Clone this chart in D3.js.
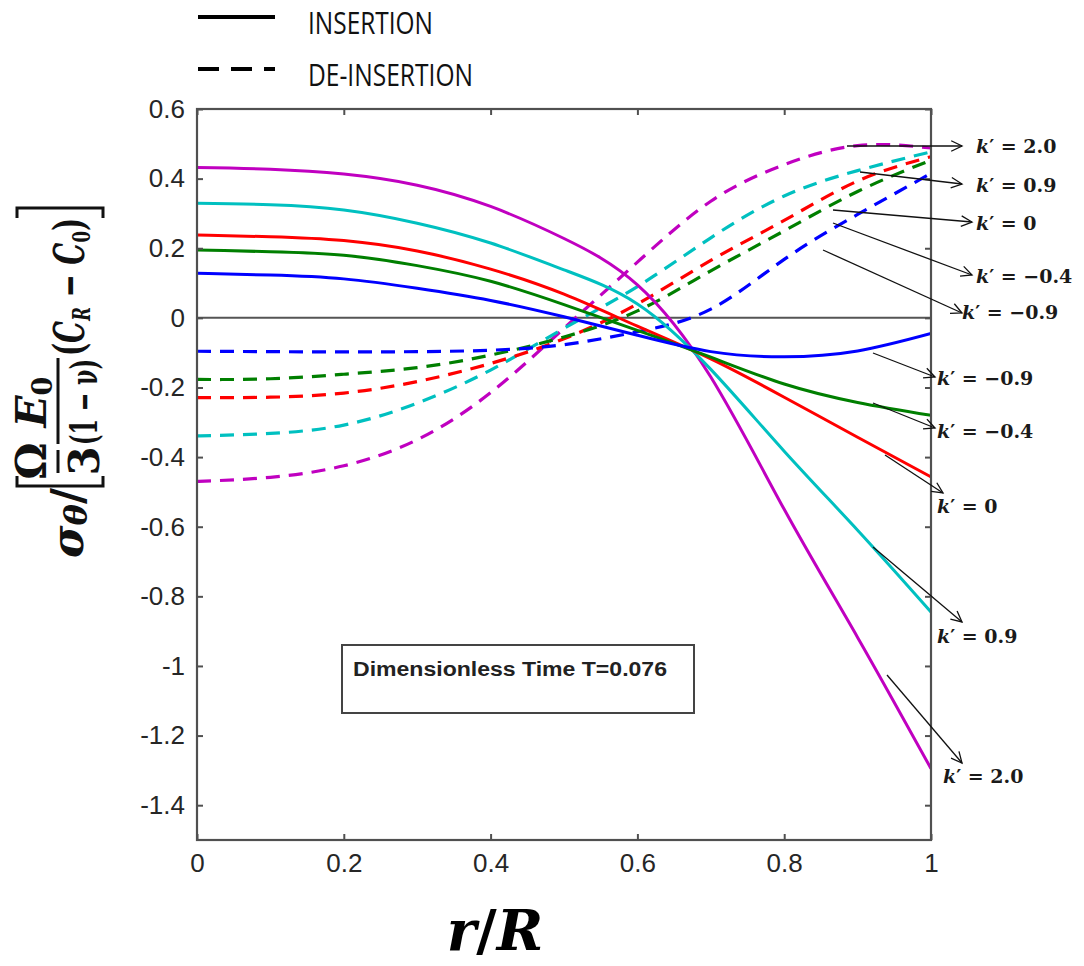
<!DOCTYPE html>
<html><head><meta charset="utf-8">
<script src="https://cdn.jsdelivr.net/npm/d3@7"></script>
<style>body{margin:0;background:#fff}</style>
</head><body>
<svg id="c" width="1084" height="966"></svg>
<script>
// ---------- data ----------
const rValues = [0, 0.1, 0.2, 0.3, 0.4, 0.5, 0.6, 0.7, 0.8, 0.9, 1.0];
const kLabels = ["2.0", "0.9", "0", "−0.4", "−0.9"];
const seriesColors = ["#c000c0", "#00c0c0", "#ff0000", "#007f00", "#0000ff"];
// insertion (solid)
const insK20  = [0.432, 0.427, 0.413, 0.381, 0.320, 0.228, 0.095, -0.170, -0.550, -0.918, -1.295];
const insK09  = [0.329, 0.325, 0.310, 0.272, 0.215, 0.138, 0.040, -0.148, -0.383, -0.610, -0.845];
const insK0   = [0.238, 0.233, 0.222, 0.192, 0.140, 0.068, -0.024, -0.118, -0.228, -0.343, -0.457];
const insKm04 = [0.195, 0.190, 0.180, 0.150, 0.105, 0.038, -0.036, -0.113, -0.190, -0.243, -0.280];
const insKm09 = [0.128, 0.123, 0.112, 0.085, 0.050, 0.003, -0.050, -0.097, -0.112, -0.095, -0.045];
// de-insertion (dashed)
const deK20  = [-0.470, -0.458, -0.425, -0.350, -0.215, -0.030, 0.160, 0.335, 0.440, 0.495, 0.488];
const deK09  = [-0.339, -0.332, -0.308, -0.245, -0.150, -0.030, 0.090, 0.230, 0.350, 0.423, 0.477];
const deK0   = [-0.229, -0.228, -0.216, -0.183, -0.131, -0.060, 0.040, 0.165, 0.280, 0.393, 0.463];
const deKm04 = [-0.177, -0.175, -0.162, -0.143, -0.107, -0.055, 0.020, 0.135, 0.250, 0.363, 0.453];
const deKm09 = [-0.096, -0.097, -0.098, -0.097, -0.093, -0.077, -0.040, 0.025, 0.168, 0.297, 0.415];
const xTicks = [0, 0.2, 0.4, 0.6, 0.8, 1];
const yTicks = [0.6, 0.4, 0.2, 0, -0.2, -0.4, -0.6, -0.8, -1, -1.2, -1.4];
const legendLabels = ["INSERTION", "DE-INSERTION"];
const noteText = "Dimensionless Time T=0.076";

// ---------- layout ----------
const svg = d3.select("#c");
const L = 197, R = 931, T = 109, B = 840;
const x = d3.scaleLinear().domain([0, 1]).range([L, R]);
const y = d3.scaleLinear().domain([-1.5, 0.6]).range([B, T]);
const axisCol = "#505050", txtCol = "#262626";

svg.append("defs").append("clipPath").attr("id", "clip")
  .append("rect").attr("x", L).attr("y", T).attr("width", R - L).attr("height", B - T);

// zero line
svg.append("line").attr("x1", L).attr("x2", R).attr("y1", y(0)).attr("y2", y(0))
  .attr("stroke", "#555").attr("stroke-width", 2);

// curves
const line = d3.line().x((d, i) => x(rValues[i])).y(d => y(d)).curve(d3.curveNatural);
const gC = svg.append("g").attr("clip-path", "url(#clip)");
const dashed = [deK20, deK09, deK0, deKm04, deKm09];
const solid = [insK20, insK09, insK0, insKm04, insKm09];
dashed.forEach((s, i) => gC.append("path").attr("d", line(s)).attr("fill", "none")
  .attr("stroke", seriesColors[i]).attr("stroke-width", 3.2).attr("stroke-dasharray", "14,9"));
solid.forEach((s, i) => gC.append("path").attr("d", line(s)).attr("fill", "none")
  .attr("stroke", seriesColors[i]).attr("stroke-width", 3));

// axes box with inward ticks
const tickLen = 6;
const fmt = d => (d < 0 ? "-" : "") + d3.format("")(Math.abs(d));
const axB = svg.append("g").attr("transform", `translate(0,${B})`)
  .call(d3.axisBottom(x).tickValues(xTicks).tickSize(-tickLen).tickPadding(14).tickFormat(fmt));
const axT = svg.append("g").attr("transform", `translate(0,${T})`)
  .call(d3.axisTop(x).tickValues(xTicks).tickSize(-tickLen).tickFormat(""));
const axL = svg.append("g").attr("transform", `translate(${L},0)`)
  .call(d3.axisLeft(y).tickValues(yTicks).tickSize(-tickLen).tickPadding(12).tickFormat(fmt));
const axR = svg.append("g").attr("transform", `translate(${R},0)`)
  .call(d3.axisRight(y).tickValues(yTicks).tickSize(-tickLen).tickFormat(""));
[axB, axT, axL, axR].forEach(a => {
  a.select(".domain").remove();
  a.selectAll("line").attr("stroke", axisCol).attr("stroke-width", 2);
  a.selectAll("text").attr("fill", txtCol).style("font-family", "Liberation Sans, Arial, sans-serif").style("font-size", "26px");
});
svg.append("rect").attr("x", L).attr("y", T).attr("width", R - L).attr("height", B - T)
  .attr("fill", "none").attr("stroke", axisCol).attr("stroke-width", 2.2);

// note box
svg.append("rect").attr("x", 342).attr("y", 645).attr("width", 352).attr("height", 68)
  .attr("fill", "#fff").attr("stroke", "#444").attr("stroke-width", 2);
svg.append("text").attr("x", 353).attr("y", 676).text(noteText)
  .attr("textLength", 314).attr("lengthAdjust", "spacingAndGlyphs")
  .style("font-family", "Liberation Sans, Arial, sans-serif").style("font-weight", "bold").style("font-size", "20px").attr("fill", "#222");

// legend
const legY = [17, 69];
legendLabels.forEach((lab, i) => {
  svg.append("line").attr("x1", 198).attr("x2", 275).attr("y1", legY[i]).attr("y2", legY[i])
    .attr("stroke", "#000").attr("stroke-width", 4).attr("stroke-dasharray", i ? "21,12" : null);
  svg.append("text").attr("x", 308).attr("y", legY[i] + 17).text(lab)
    .attr("textLength", i ? 165 : 125).attr("lengthAdjust", "spacingAndGlyphs")
    .style("font-family", "Open Sans, sans-serif").style("font-size", "31px").attr("fill", "#111");
});

// annotation arrows + k' labels
const arrows = [
  // [x1,y1,x2,y2, labelX, labelY, label]
  [847, 146, 962, 146, 976, 153, kLabels[0]],
  [860, 172, 962, 184, 976, 192, kLabels[1]],
  [833, 210, 972, 222, 976, 230, kLabels[2]],
  [833, 223, 972, 275, 976, 283, kLabels[3]],
  [823, 250, 962, 313, 962, 319, kLabels[4]],
  [873, 353, 935, 377, 937, 385, kLabels[4]],
  [873, 403, 935, 428, 937, 438, kLabels[3]],
  [885, 455, 943, 493, 937, 513, kLabels[2]],
  [873, 547, 962, 622, 937, 643, kLabels[1]],
  [887, 675, 962, 763, 943, 783, kLabels[0]]
];
const ga = svg.append("g");
arrows.forEach(a => {
  const [x1, y1, x2, y2, lx, ly, lab] = a;
  ga.append("line").attr("x1", x1).attr("y1", y1).attr("x2", x2).attr("y2", y2)
    .attr("stroke", "#111").attr("stroke-width", 1.3);
  const ang = Math.atan2(y2 - y1, x2 - x1), h = 12, w = 0.45;
  ga.append("path").attr("d",
    `M${x2 - h * Math.cos(ang - w)},${y2 - h * Math.sin(ang - w)}L${x2},${y2}L${x2 - h * Math.cos(ang + w)},${y2 - h * Math.sin(ang + w)}`)
    .attr("fill", "none").attr("stroke", "#111").attr("stroke-width", 1.3);
  const t = ga.append("text").attr("x", lx).attr("y", ly)
    .style("font-family", "DejaVu Serif, serif").style("font-weight", "bold").style("font-size", "19px").attr("fill", "#1a1a1a");
  t.append("tspan").style("font-style", "italic").text("k");
  t.append("tspan").text("′ = " + lab);
});

// x label
const xl = svg.append("text").attr("x", 495).attr("y", 950).attr("text-anchor", "middle")
  .style("font-family", "DejaVu Serif, serif").style("font-weight", "bold").style("font-size", "56px").attr("fill", "#000");
xl.append("tspan").style("font-style", "italic").text("r");
xl.append("tspan").text("/");
xl.append("tspan").style("font-style", "italic").text("R");

// y label (rotated)
const gy = svg.append("g").attr("transform", "translate(58,380) rotate(-90)")
  .style("font-family", "DejaVu Serif, serif").style("font-weight", "bold").attr("fill", "#111");
const yc = "#111";
const s1 = gy.append("text").attr("x", -178).attr("y", 25).style("font-size", "44px")
  .attr("textLength", 70).attr("lengthAdjust", "spacingAndGlyphs");
s1.append("tspan").style("font-style", "italic").text("σ");
s1.append("tspan").style("font-style", "italic").style("font-size", "32px").attr("dy", 4).text("θ");
s1.append("tspan").attr("dy", -4).text("/");
gy.append("path").attr("d", "M-96,-41H-106V45H-96").attr("fill", "none").attr("stroke", yc).attr("stroke-width", 3);
gy.append("path").attr("d", "M162,-41H172V45H162").attr("fill", "none").attr("stroke", yc).attr("stroke-width", 3);
gy.append("line").attr("x1", -93).attr("x2", -70).attr("y1", 0).attr("y2", 0).attr("stroke", yc).attr("stroke-width", 3);
gy.append("line").attr("x1", -64).attr("x2", 22).attr("y1", 0).attr("y2", 0).attr("stroke", yc).attr("stroke-width", 3);
gy.append("text").attr("x", -81).attr("y", -12).attr("text-anchor", "middle").style("font-size", "42px").text("Ω");
gy.append("text").attr("x", -81).attr("y", 41).attr("text-anchor", "middle").style("font-size", "42px").text("3");
const e0 = gy.append("text").attr("x", -22).attr("y", -12).attr("text-anchor", "middle").style("font-size", "42px");
e0.append("tspan").style("font-style", "italic").text("E");
e0.append("tspan").style("font-size", "27px").attr("dy", 6).text("0");
gy.append("text").attr("x", -22).attr("y", 39).attr("text-anchor", "middle").style("font-size", "38px")
  .attr("textLength", 86).attr("lengthAdjust", "spacingAndGlyphs").text("(1 − ν)");
const cc = gy.append("text").attr("x", 24).attr("y", 26).style("font-size", "42px")
  .attr("textLength", 138).attr("lengthAdjust", "spacingAndGlyphs");
cc.append("tspan").text("(");
cc.append("tspan").style("font-style", "italic").text("C");
cc.append("tspan").style("font-style", "italic").style("font-size", "25px").attr("dy", 6).text("R");
cc.append("tspan").attr("dy", -6).text(" − ");
cc.append("tspan").style("font-style", "italic").text("C");
cc.append("tspan").style("font-size", "25px").attr("dy", 6).text("0");
cc.append("tspan").attr("dy", -6).text(")");
</script>
</body></html>
